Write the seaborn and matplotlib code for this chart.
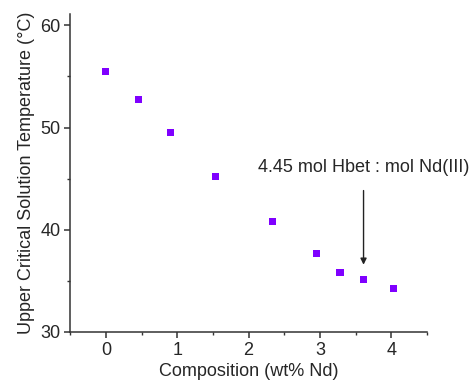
import matplotlib
matplotlib.use("Agg")
import matplotlib.pyplot as plt
from matplotlib.ticker import MultipleLocator
import seaborn as sns
import pandas as pd

composition = [0.0, 0.46, 0.91, 1.54, 2.34, 2.95, 3.28, 3.61, 4.03]
ucst = [55.5, 52.7, 49.5, 45.2, 40.8, 37.7, 35.85, 35.1, 34.25]
annotation = "4.45 mol Hbet : mol Nd(III)"
arrow_x = 3.61

sns.set_theme(style="ticks")
plt.rcParams['font.family'] = ['Liberation Sans', 'DejaVu Sans']

df = pd.DataFrame({"Composition (wt% Nd)": composition, "UCST": ucst})

fig = plt.figure(figsize=(4.74, 3.81), dpi=100)
ax = fig.add_axes([0.148, 0.129, 0.753, 0.834])
sns.scatterplot(data=df, x="Composition (wt% Nd)", y="UCST", marker="s",
                color="#7F00FF", s=26, edgecolor="none", ax=ax)

ax.set_xlim(-0.5, 4.5)
ax.set_ylim(30, 61.1)
ax.xaxis.set_major_locator(MultipleLocator(1))
ax.xaxis.set_minor_locator(MultipleLocator(0.5))
ax.yaxis.set_major_locator(MultipleLocator(10))
ax.yaxis.set_minor_locator(MultipleLocator(5))
for s in ["top", "right"]:
    ax.spines[s].set_visible(False)
for s in ["left", "bottom"]:
    ax.spines[s].set_color("#333333")
    ax.spines[s].set_linewidth(1.1)
ax.tick_params(which="major", length=4, width=1.1, color="#333333", labelsize=13, pad=3)
ax.tick_params(which="minor", length=2.5, width=1.0, color="#333333")
ax.set_xlabel("Composition (wt% Nd)", fontsize=13, labelpad=3)
ax.set_ylabel("Upper Critical Solution Temperature (\u00b0C)", fontsize=13, labelpad=4)

ax.annotate("", xy=(arrow_x, 36.3), xytext=(arrow_x, 44.1),
            arrowprops=dict(arrowstyle="-|>", color="#222222", lw=1.0, mutation_scale=9))
ax.text(2.13, 46.1, annotation, fontsize=13, va="center", ha="left", clip_on=False)

fig.savefig("out.png", dpi=100)
